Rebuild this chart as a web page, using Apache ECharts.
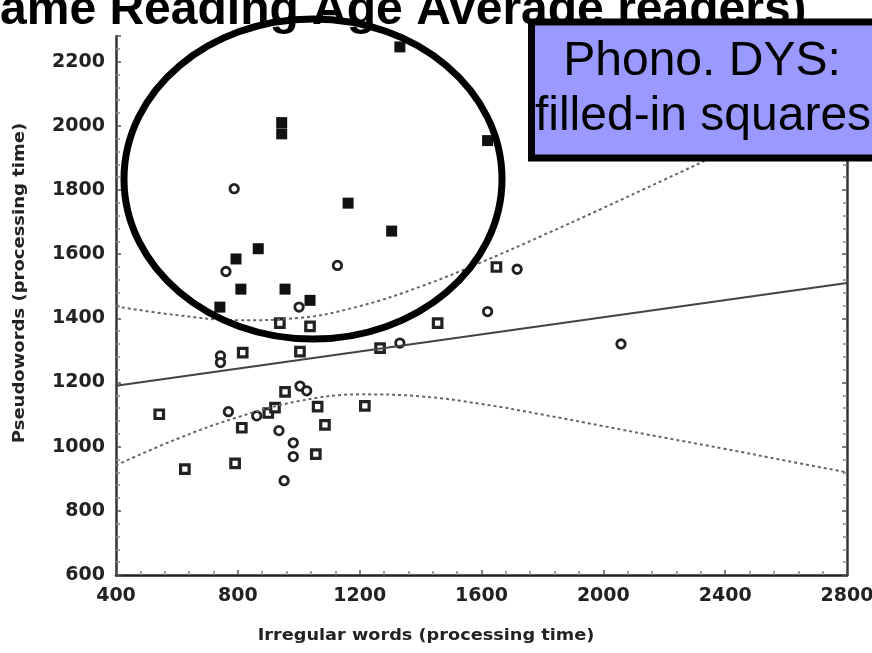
<!DOCTYPE html>
<html>
<head>
<meta charset="utf-8">
<script src="https://cdn.jsdelivr.net/npm/echarts@6/dist/echarts.min.js"></script>
<style>
  html, body { margin: 0; padding: 0; background: #fff; }
  #chart { width: 872px; height: 653px; }
</style>
</head>
<body>
<div id="chart"></div>
<script>
// filled-in squares (Phono. DYS)
var phonoX = [1332, 944, 944, 1620, 1162, 1305, 867, 794, 810, 955, 1037, 741];
var phonoY = [2246, 2010, 1975, 1954, 1759, 1672, 1617, 1585, 1491, 1491, 1456, 1435];

// open squares
var squareX = [938, 1037, 1456, 1649, 1267, 816, 1004, 542, 955, 1062, 1217, 900, 922, 813, 1086, 1056, 791, 626];
var squareY = [1385, 1375, 1385, 1560, 1307, 1293, 1296, 1101, 1171, 1125, 1127, 1105, 1122, 1059, 1068, 977, 948, 930];

// open circles
var circleX = [788, 761, 1127, 1001, 1620, 1717, 1332, 743, 743, 769, 862, 1004, 1026, 935, 982, 982, 952, 2058];
var circleY = [1804, 1546, 1565, 1435, 1421, 1553, 1323, 1283, 1262, 1109, 1096, 1189, 1174, 1050, 1012, 969, 894, 1320];

// regression line and its confidence band
var fitX = [400, 2800];
var fitY = [1190, 1510];
var bandX = [400, 600, 800, 1000, 1200, 1400, 1600, 1800, 2000, 2200, 2400, 2600, 2800];
var bandUpper = [1437, 1410, 1394, 1401, 1438, 1499, 1575, 1658, 1744, 1832, 1921, 2010, 2100];
var bandLower = [942, 1024, 1092, 1142, 1163, 1157, 1133, 1100, 1064, 1028, 993, 956, 920];

function pairs(xs, ys) {
  return xs.map(function (x, i) { return [x, ys[i]]; });
}

var tickFont = {
  fontFamily: 'DejaVu Sans', fontWeight: 'bold', fontSize: 19, color: '#222',
  formatter: function (v) { return String(v); }
};
var tickStyle = { show: true, inside: true, length: 5, lineStyle: { color: '#555', width: 1.5 } };
var minorStyle = { show: true, splitNumber: 5, length: 4, lineStyle: { color: '#888', width: 1.5 } };

var chart = echarts.init(document.getElementById('chart'), null, { renderer: 'canvas' });

chart.setOption({
  animation: false,
  backgroundColor: '#fff',
  grid: { left: 116, right: 25, top: 36, bottom: 78, outerBoundsMode: 'none' },
  xAxis: {
    type: 'value',
    min: 400,
    max: 2800,
    interval: 400,
    axisLine: { show: true, onZero: false, lineStyle: { color: '#222', width: 2.5 } },
    axisTick: tickStyle,
    minorTick: minorStyle,
    splitLine: { show: false },
    axisLabel: Object.assign({ margin: 12 }, tickFont)
  },
  yAxis: [
    {
      type: 'value',
      min: 600,
      max: 2280,
      interval: 200,
      axisLine: { show: true, onZero: false, lineStyle: { color: '#333', width: 2.5 } },
      axisTick: tickStyle,
      minorTick: minorStyle,
      splitLine: { show: false },
      axisLabel: Object.assign({ margin: 11, showMaxLabel: false }, tickFont)
    },
    {
      type: 'value',
      position: 'right',
      min: 600,
      max: 2280,
      interval: 200,
      axisLine: { show: true, onZero: false, lineStyle: { color: '#333', width: 2.5 } },
      axisTick: tickStyle,
      minorTick: minorStyle,
      splitLine: { show: false },
      axisLabel: { show: false }
    }
  ],
  series: [
    {
      type: 'line',
      data: pairs(bandX, bandUpper),
      smooth: 0.4,
      showSymbol: false,
      silent: true,
      lineStyle: { color: '#666', width: 2, type: [3, 3] }
    },
    {
      type: 'line',
      data: pairs(bandX, bandLower),
      smooth: 0.4,
      showSymbol: false,
      silent: true,
      lineStyle: { color: '#666', width: 2, type: [3, 3] }
    },
    {
      type: 'line',
      data: pairs(fitX, fitY),
      showSymbol: false,
      silent: true,
      lineStyle: { color: '#444', width: 2 }
    },
    {
      type: 'scatter',
      data: pairs(squareX, squareY),
      symbol: 'rect',
      symbolSize: 8.5,
      itemStyle: { color: '#fff', borderColor: '#222', borderWidth: 3.2, opacity: 1 }
    },
    {
      type: 'scatter',
      data: pairs(circleX, circleY),
      symbol: 'circle',
      symbolSize: 8.5,
      itemStyle: { color: '#fff', borderColor: '#222', borderWidth: 2.8, opacity: 1 }
    },
    {
      type: 'scatter',
      data: pairs(phonoX, phonoY),
      symbol: 'rect',
      symbolSize: 11,
      itemStyle: { color: '#111', opacity: 1 }
    }
  ],
  graphic: [
    {
      type: 'text',
      z: 100,
      x: 20,
      y: 283,
      rotation: Math.PI / 2,
      scaleX: 1.2,
      style: {
        text: 'Pseudowords (processing time)',
        font: 'bold 15px "DejaVu Sans"',
        fill: '#222',
        textAlign: 'center',
        textVerticalAlign: 'middle'
      }
    },
    {
      type: 'text',
      z: 100,
      x: 426,
      y: 636,
      scaleX: 1.18,
      style: {
        text: 'Irregular words (processing time)',
        font: 'bold 15px "DejaVu Sans"',
        fill: '#222',
        textAlign: 'center',
        textVerticalAlign: 'middle'
      }
    },
    {
      type: 'ellipse',
      z: 110,
      shape: { cx: 313, cy: 179, rx: 189, ry: 160 },
      style: { fill: null, stroke: '#000', lineWidth: 7 }
    },
    {
      type: 'text',
      z: 120,
      x: -32,
      y: 11,
      style: {
        text: 'Same Reading Age Average readers)',
        font: 'bold 48px "Liberation Sans", Arial',
        fill: '#000',
        textAlign: 'left',
        textVerticalAlign: 'middle'
      }
    },
    {
      type: 'rect',
      z: 130,
      shape: { x: 531.5, y: 22, width: 360, height: 136 },
      style: { fill: '#9999ff', stroke: '#000', lineWidth: 7 }
    },
    {
      type: 'text',
      z: 140,
      x: 702,
      y: 62,
      style: {
        text: 'Phono. DYS:',
        font: '48px "Liberation Sans", Arial',
        fill: '#000',
        textAlign: 'center',
        textVerticalAlign: 'middle'
      }
    },
    {
      type: 'text',
      z: 140,
      x: 703,
      y: 117,
      style: {
        text: 'filled-in squares',
        font: '48px "Liberation Sans", Arial',
        fill: '#000',
        textAlign: 'center',
        textVerticalAlign: 'middle'
      }
    }
  ]
});
</script>
</body>
</html>
